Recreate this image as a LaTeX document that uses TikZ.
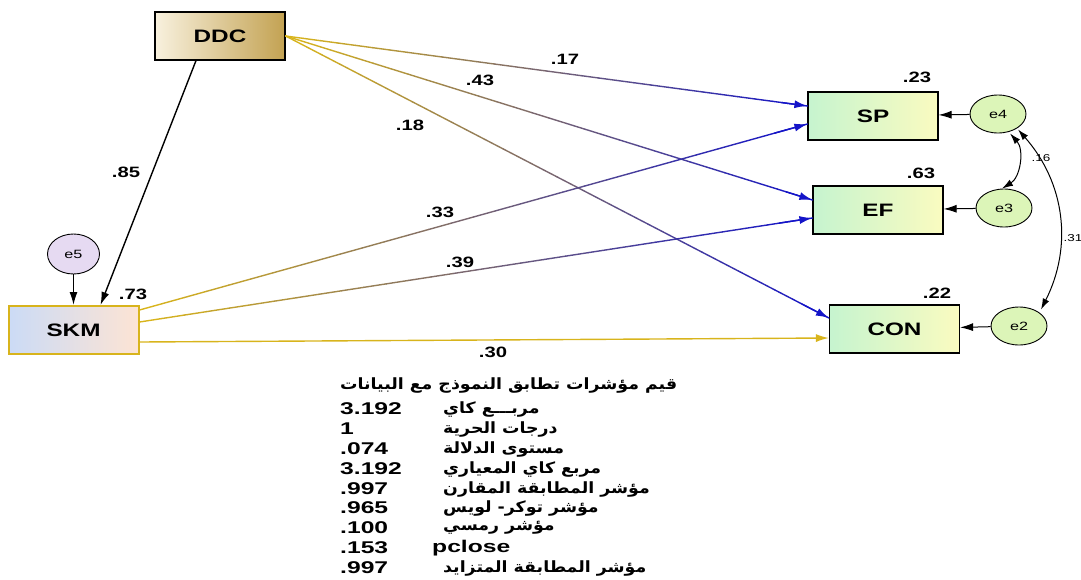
\documentclass[tikz,border=0pt]{standalone}
\usepackage{fontspec}
\setmainfont{Liberation Sans}[FakeStretch=1.35]
\newfontfamily\tabfont{Liberation Sans}[FakeStretch=1.45]
\newfontfamily\arabicfont[Script=Arabic,FakeStretch=1.12]{DejaVu Sans}
\TeXXeTstate=1
\usetikzlibrary{calc,arrows.meta,positioning,shapes.geometric}

\definecolor{pathgold}{HTML}{D8B41C}
\definecolor{pathblue}{HTML}{1414C8}
\definecolor{ddclight}{HTML}{F8F1DE}
\definecolor{ddcgold}{HTML}{C3A252}
\definecolor{skmblue}{HTML}{CBDBF6}
\definecolor{skmpeach}{HTML}{FDE4D4}
\definecolor{boxgreen}{HTML}{C6F4CF}
\definecolor{boxyellow}{HTML}{FAFBC0}
\definecolor{errgreen}{HTML}{DCF5B8}
\definecolor{errlilac}{HTML}{E6DAF2}

\tikzset{
  varbox/.style={draw=black, line width=1.2pt, minimum width=130pt, minimum height=48pt,
    inner sep=0pt, font=\fontsize{18}{18}\selectfont\bfseries},
  endobox/.style={varbox, left color=boxgreen, right color=boxyellow},
  errnode/.style={ellipse, draw=black, line width=0.9pt, minimum width=56pt,
    minimum height=38pt, inner sep=0pt, fill=errgreen, font=\fontsize{12}{12}\selectfont},
  coef/.style={inner sep=0pt, font=\fontsize{15}{15}\selectfont\bfseries},
  smallcoef/.style={inner sep=0pt, font=\fontsize{10}{10}\selectfont},
  path arrow/.style={-{Latex[length=13pt,width=8pt]}, line width=1.4pt},
  cov arrow/.style={{Latex[length=11pt,width=7pt]}-{Latex[length=11pt,width=7pt]}, line width=1pt},
  fitrow/.style={inner sep=0pt, anchor=west, font=\tabfont\fontsize{17}{17}\selectfont\bfseries},
  fitlabel/.style={inner sep=0pt, anchor=west, font=\arabicfont\fontsize{15.5}{15.5}\selectfont\bfseries},
}

% gold to blue blended path
\newcommand{\blendpath}[2]{%
  \foreach \k in {0,...,29}{%
    \pgfmathsetmacro{\ta}{\k/30}%
    \pgfmathsetmacro{\tb}{(\k+1)/30}%
    \pgfmathtruncatemacro{\mix}{100*\k/29}%
    \draw[line width=1.4pt, line cap=round, draw=pathblue!\mix!pathgold]
      ($(#1)!\ta!(#2)$) -- ($(#1)!\tb!(#2)$);
  }%
  \draw[path arrow, draw=pathblue] ($(#1)!0.95!(#2)$) -- (#2);
}

\begin{document}
\begin{tikzpicture}[x=1pt, y=-1pt]
  \useasboundingbox (0,0) rectangle (1081,579);

  % variables
  \node[varbox, left color=ddclight, right color=ddcgold] (DDC) at (220,36) {DDC};
  \node[varbox, draw=pathgold, line width=2pt, left color=skmblue, right color=skmpeach]
    (SKM) at (73.5,330) {SKM};
  \node[endobox] (SP) at (873,116) {SP};
  \node[endobox] (EF) at (878,210) {EF};
  \node[endobox] (CON) at (894.5,329) {CON};

  % errors
  \node[errnode, fill=errlilac, minimum width=52pt, minimum height=40pt] (e5) at (73.5,254) {e5};
  \node[errnode] (e4) at (998,114) {e4};
  \node[errnode] (e3) at (1004,208) {e3};
  \node[errnode] (e2) at (1019,326) {e2};

  % connector ends
  \coordinate (sp in1) at ($(SP.west)+(0,-10)$);
  \coordinate (sp in2) at ($(SP.west)+(0,8)$);
  \coordinate (ef in1) at ($(EF.west)+(0,-10)$);
  \coordinate (ef in2) at ($(EF.west)+(0,8)$);
  \coordinate (con in1) at ($(CON.west)+(0,-11)$);
  \coordinate (con in2) at ($(CON.west)+(0,9)$);
  \coordinate (skm out1) at ($(SKM.east)+(0,-20)$);
  \coordinate (skm out2) at ($(SKM.east)+(0,-8)$);
  \coordinate (skm out3) at ($(SKM.east)+(0,12)$);

  % paths
  \draw[path arrow] ($(DDC.south)+(-24,0)$) -- ($(SKM.north)+(27,0)$);
  \draw[path arrow] (e5) -- (SKM.north);
  \blendpath{DDC.east}{sp in1}
  \blendpath{DDC.east}{ef in1}
  \blendpath{DDC.east}{con in1}
  \blendpath{skm out1}{sp in2}
  \blendpath{skm out2}{ef in2}
  \draw[path arrow, draw=pathgold] (skm out3) -- (con in2);

  \draw[path arrow, line width=1pt] (e4) -- (SP);
  \draw[path arrow, line width=1pt] (e3) -- (EF);
  \draw[path arrow, line width=1pt] (e2) -- (CON);
  \draw[cov arrow] ($(e4.south)+(12,0)$) to[bend left=50] ($(e3.north)+(-2,0)$);
  \draw[cov arrow] ($(e4.south)+(20,-4)$) to[bend left=34] ($(e2.north)+(22,3)$);

  % coefficients
  \node[coef] (c85) at (126,172) {.85};
  \node[coef] (c73) at (133,294) {.73};
  \node[coef] (c17) at (565,59) {.17};
  \node[coef] (c43) at (480,80) {.43};
  \node[coef] (c18) at (410,125) {.18};
  \node[coef] (c33) at (440,212) {.33};
  \node[coef] (c39) at (460,262) {.39};
  \node[coef] (c30) at (493,352) {.30};
  \node[coef] (r23) at (917,77) {.23};
  \node[coef] (r63) at (921,173) {.63};
  \node[coef] (r22) at (937,293) {.22};
  \node[smallcoef] (c16) at (1041,158) {.16};
  \node[smallcoef] (c31) at (1073,238) {.31};

  % fit indices
  \node[fitlabel] (fittitle) at (340,386) {\beginR قيم مؤشرات تطابق النموذج مع البيانات\endR};
  \foreach \val/\txt/\yy [count=\i] in {3.192/{مربـــع كاي}/409, 1/{درجات الحرية}/429,
      .074/{مستوى الدلالة}/449, 3.192/{مربع كاي المعياري}/469,
      .997/{مؤشر المطابقة المقارن}/489, .965/{مؤشر توكر- لويس}/508,
      .100/{مؤشر رمسي}/528, .997/{مؤشر المطابقة المتزايد}/568}{
    \node[fitrow] (val\i) at (340,\yy) {\val};
    \node[fitlabel] (lab\i) at (443,\yy) {\beginR\txt\endR};
  }
  \node[fitrow] (valp) at (340,548) {.153};
  \node[fitrow] (labp) at (432,548) {pclose};
\end{tikzpicture}
\end{document}
